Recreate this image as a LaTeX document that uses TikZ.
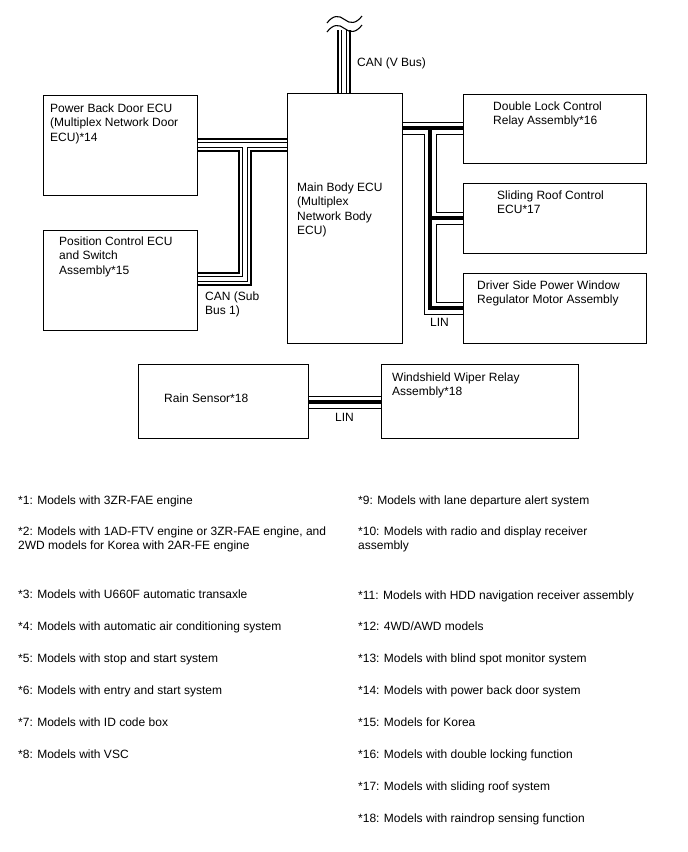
\documentclass[tikz,border=0pt]{standalone}
\usepackage{fontspec}
\setmainfont{Liberation Sans}
\newcommand\ml[1]{\begin{tabular}[t]{@{}l@{}}#1\end{tabular}}
\begin{document}
\begin{tikzpicture}[x=1pt,y=-1pt,
  box/.style={draw=black, line width=0.9pt, inner sep=0pt, anchor=north west},
  txt/.style={anchor=base west, inner sep=0pt, font=\fontsize{12}{14.5}\selectfont},
  tilde/.style={draw=black, line width=1.1pt}]
\useasboundingbox (0,0) rectangle (688,852);
% boxes
\node[box, minimum width=154pt, minimum height=100pt] (pbd) at (43,95) {};
\node[box, minimum width=154pt, minimum height=100pt] (pcu) at (43,230) {};
\node[box, minimum width=115pt, minimum height=250pt] (main) at (287,93) {};
\node[box, minimum width=183pt, minimum height=69pt] (dl) at (463,94) {};
\node[box, minimum width=183pt, minimum height=70pt] (sr) at (463,183) {};
\node[box, minimum width=183pt, minimum height=70pt] (dw) at (463,273) {};
\node[box, minimum width=170pt, minimum height=74pt] (rain) at (138,364) {};
\node[box, minimum width=197pt, minimum height=74pt] (ww) at (381,364) {};
% box texts
\node[txt] (pbdt) at (50,112) {\ml{Power Back Door ECU\\(Multiplex Network Door\\ECU)*14}};
\node[txt] (pcut) at (59,245) {\ml{Position Control ECU\\and Switch\\Assembly*15}};
\node[txt] (maint) at (297,191) {\ml{Main Body ECU\\(Multiplex\\Network Body\\ECU)}};
\node[txt] (dlt) at (493,110) {\ml{Double Lock Control\\Relay Assembly*16}};
\node[txt] (srt) at (497,199) {\ml{Sliding Roof Control\\ECU*17}};
\node[txt] (dwt) at (477,289) {\ml{Driver Side Power Window\\Regulator Motor Assembly}};
\node[txt] (raint) at (164,402) {Rain Sensor*18};
\node[txt] (wwt) at (392,381) {\ml{Windshield Wiper Relay\\Assembly*18}};
% CAN wires
\newcommand\canwires{(main.west |- 0,145) -- (pbd.east |- 0,145) (245,145) -- (245,279) -- (pcu.east |- 0,279) (main.north -| 344,0) -- (344,29)}
\foreach \w/\c in {14/black, 9.6/white, 6/black, 4/white}
  \draw[line width=\w pt, draw=\c, line join=miter] \canwires;
% LIN wires
\newcommand\linwires{(main.east |- 0,128) -- (dl.west |- 0,128) (430,128) -- (430,308) -- (dw.west |- 0,308) (430,218) -- (sr.west |- 0,218) (rain.east |- 0,402) -- (ww.west |- 0,402)}
\foreach \w/\c in {13/black, 11/white, 3.5/black}
  \draw[line width=\w pt, draw=\c, line join=miter] \linwires;
% break marks
\coordinate (vtop) at (344,29);
\fill[white] (326,10) rectangle (363,30);
\draw[tilde] (327,23) .. controls (333,15) and (339,15) .. (344.5,19.5) .. controls (350,24) and (356,24) .. (362,16);
\draw[tilde] (327,32) .. controls (333,24) and (339,24) .. (344.5,28.5) .. controls (350,33) and (356,33) .. (362,25);
% bus labels
\node[txt] (lv) at (357,66) {CAN (V Bus)};
\node[txt] (ls) at (205,300) {\ml{CAN (Sub\\Bus 1)}};
\node[txt] (ll1) at (430,326) {LIN};
\node[txt] (ll2) at (335,421) {LIN};
% footnotes left
\node[txt] (f1) at (18,504) {*1: Models with 3ZR-FAE engine};
\node[txt] (f2) at (18,535) {\ml{*2: Models with 1AD-FTV engine or 3ZR-FAE engine, and\\2WD models for Korea with 2AR-FE engine}};
\node[txt] (f3) at (18,598) {*3: Models with U660F automatic transaxle};
\node[txt] (f4) at (18,630) {*4: Models with automatic air conditioning system};
\node[txt] (f5) at (18,662) {*5: Models with stop and start system};
\node[txt] (f6) at (18,694) {*6: Models with entry and start system};
\node[txt] (f7) at (18,726) {*7: Models with ID code box};
\node[txt] (f8) at (18,758) {*8: Models with VSC};
% footnotes right
\node[txt] (f9) at (358,504) {*9: Models with lane departure alert system};
\node[txt] (f10) at (358,535) {\ml{*10: Models with radio and display receiver\\assembly}};
\node[txt] (f11) at (358,599) {*11: Models with HDD navigation receiver assembly};
\node[txt] (f12) at (358,630) {*12: 4WD/AWD models};
\node[txt] (f13) at (358,662) {*13: Models with blind spot monitor system};
\node[txt] (f14) at (358,694) {*14: Models with power back door system};
\node[txt] (f15) at (358,726) {*15: Models for Korea};
\node[txt] (f16) at (358,758) {*16: Models with double locking function};
\node[txt] (f17) at (358,790) {*17: Models with sliding roof system};
\node[txt] (f18) at (358,822) {*18: Models with raindrop sensing function};
\end{tikzpicture}
\end{document}
